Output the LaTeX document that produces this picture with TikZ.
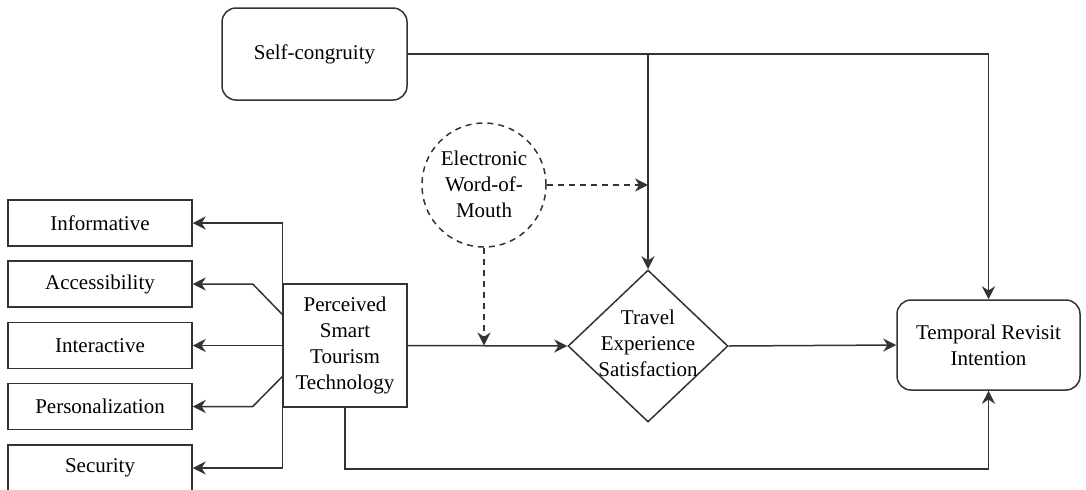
\documentclass[tikz,border=0pt]{standalone}
\usepackage{fontspec}
\setmainfont{Liberation Serif}
\usetikzlibrary{shapes.geometric,arrows.meta,calc}

\begin{document}
\begin{tikzpicture}[x=0.5pt,y=-0.5pt,
  every node/.style={font=\rmfamily\fontsize{10.5}{13}\selectfont, align=center, inner sep=0pt},
  line/.style={draw=black!80, line width=0.75pt},
  arr/.style={line, -{Stealth[length=6.5pt,width=6.5pt]}},
  darr/.style={arr, dash pattern=on 3pt off 2.5pt},
  sqbox/.style={line, rectangle, minimum width=92pt, minimum height=23pt},
  rbox/.style={line, rectangle, rounded corners=7pt}
]
\useasboundingbox (0,0) rectangle (1086,489);

% dimension boxes on the left
\node[sqbox] (inf) at (100,223)   {Informative};
\node[sqbox] (acc) at (100,284)   {Accessibility};
\node[sqbox] (int) at (100,345.5) {Interactive};
\node[sqbox] (per) at (100,406.5) {Personalization};
\node[sqbox] (sec) at (100,468)   {Security};

% main constructs
\node[line, rectangle, minimum width=62pt, minimum height=61.5pt] (pstt) at (345,345.5)
  {Perceived\\Smart\\Tourism\\Technology};
\node[rbox, minimum width=92.5pt, minimum height=46pt] (sc) at (314.5,54) {Self-congruity};
\node[line, dash pattern=on 3pt off 2.5pt, circle, minimum size=62pt] (ewom) at (484,185) {};
\node at (484,184) {Electronic\\Word-of-\\Mouth};
\node[line, diamond, minimum width=80pt, minimum height=76pt] (tes) at (648,346) {};
\node at (648,343) {Travel\\Experience\\Satisfaction};
\node[rbox, minimum width=91.5pt, minimum height=45pt] (tri) at (988.5,345) {Temporal Revisit\\Intention};

% dimensions of smart tourism technology
\draw[arr] (pstt.north west) |- (inf.east);
\draw[arr] ($(pstt.north west)!0.25!(pstt.south west)$) -- ($(acc.east)+(60,0)$) -- (acc.east);
\draw[arr] (pstt.west) -- (int.east);
\draw[arr] ($(pstt.north west)!0.75!(pstt.south west)$) -- ($(per.east)+(60,0)$) -- (per.east);
\draw[arr] (pstt.south west) |- (sec.east);

% structural paths
\draw[arr] (pstt.east) -- (tes.west);
\draw[arr] (tes.east) -- (tri.west);
\draw[arr] (sc.east) -| (tes.north);
\draw[arr] (sc.east) -| (tri.north);
\draw[arr] ($(pstt.south west)!0.5!(pstt.south east)$) -- ++(0,61) -| (tri.south);

% moderating effects of eWOM
\coordinate (mod1) at (tes.north |- ewom.east);
\draw[darr] (ewom.east) -- (mod1);
\draw[darr] (ewom.south) -- (ewom.south |- pstt.east);

\end{tikzpicture}
\end{document}
